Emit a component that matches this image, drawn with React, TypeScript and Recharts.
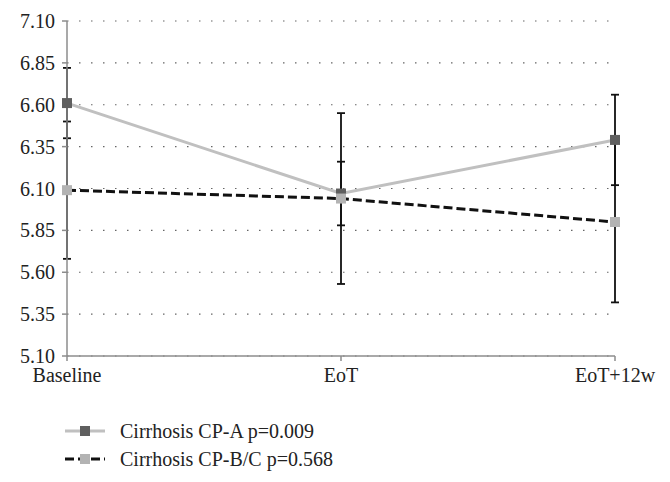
import { LineChart, Line, XAxis, YAxis, CartesianGrid, ErrorBar } from 'recharts';

const categories = ['Baseline', 'EoT', 'EoT+12w'];
const cpA = [6.61, 6.07, 6.39];
const cpAErr = [0.21, 0.19, 0.27];
const cpBC = [6.09, 6.04, 5.9];
const cpBCErr = [0.41, 0.51, 0.48];
const yTicks = [5.1, 5.35, 5.6, 5.85, 6.1, 6.35, 6.6, 6.85, 7.1];
const seriesLabels = ['Cirrhosis CP-A p=0.009', 'Cirrhosis CP-B/C p=0.568'];

const data = categories.map((name, i) => ({
    name,
    a: cpA[i],
    aErr: cpAErr[i],
    bc: cpBC[i],
    bcErr: cpBCErr[i],
}));

const FONT = '"Liberation Serif", "DejaVu Serif", serif';

const squareDot = (fill: string) => (props: any) => {
    const { cx, cy, index } = props;
    if (cx == null || cy == null) return null;
    return <rect key={`d-${index}`} x={cx - 5} y={cy - 5} width={10} height={10} fill={fill} />;
};

function LegendRow({ label, stroke, dash, marker, top }: { label: string; stroke: string; dash?: string; marker: string; top: number }) {
    return (
        <div style={{ position: 'absolute', left: 63, top, display: 'flex', alignItems: 'center' }}>
            <svg width={44} height={12}>
                <line x1={2} y1={6} x2={42} y2={6} stroke={stroke} strokeWidth={3} strokeDasharray={dash} />
                <rect x={17} y={1} width={10} height={10} fill={marker} />
            </svg>
            <span style={{ marginLeft: 13, fontFamily: FONT, fontSize: 20, color: '#222', lineHeight: '24px' }}>{label}</span>
        </div>
    );
}

export default function App() {
    return (
        <div style={{ position: 'absolute', left: 0, top: 0, width: 670, height: 482, background: '#fff' }}>
            <LineChart width={670} height={482} data={data} margin={{ top: 21, right: 55, left: 0, bottom: 96 }}>
                <CartesianGrid vertical={false} stroke="#666" strokeDasharray="1.5 10.5" strokeWidth={1.2} />
                <XAxis
                    dataKey="name"
                    height={30}
                    stroke="#8c8c8c"
                    strokeWidth={1.5}
                    tickSize={5}
                    tickMargin={7}
                    tick={{ fill: '#222', fontSize: 20, fontFamily: FONT }}
                    interval={0}
                />
                <YAxis
                    width={67}
                    domain={[5.1, 7.1]}
                    ticks={yTicks}
                    stroke="#8c8c8c"
                    strokeWidth={1.5}
                    tickSize={5}
                    tickMargin={7}
                    tickFormatter={(v: number) => v.toFixed(2)}
                    tick={{ fill: '#222', fontSize: 20, fontFamily: FONT }}
                    allowDataOverflow
                />
                <Line
                    dataKey="a"
                    stroke="#c0c0c0"
                    strokeWidth={3}
                    dot={squareDot('#5f5f5f')}
                    activeDot={false}
                    isAnimationActive={false}
                >
                    <ErrorBar dataKey="aErr" width={4} stroke="#111" strokeWidth={1.8} direction="y" />
                </Line>
                <Line
                    dataKey="bc"
                    stroke="#111"
                    strokeWidth={3}
                    strokeDasharray="9 4"
                    dot={squareDot('#b3b3b3')}
                    activeDot={false}
                    isAnimationActive={false}
                >
                    <ErrorBar dataKey="bcErr" width={4} stroke="#111" strokeWidth={1.8} direction="y" />
                </Line>
            </LineChart>
            <LegendRow label={seriesLabels[0]} stroke="#c0c0c0" marker="#5f5f5f" top={419} />
            <LegendRow label={seriesLabels[1]} stroke="#111" dash="9 4" marker="#b3b3b3" top={447} />
        </div>
    );
}
